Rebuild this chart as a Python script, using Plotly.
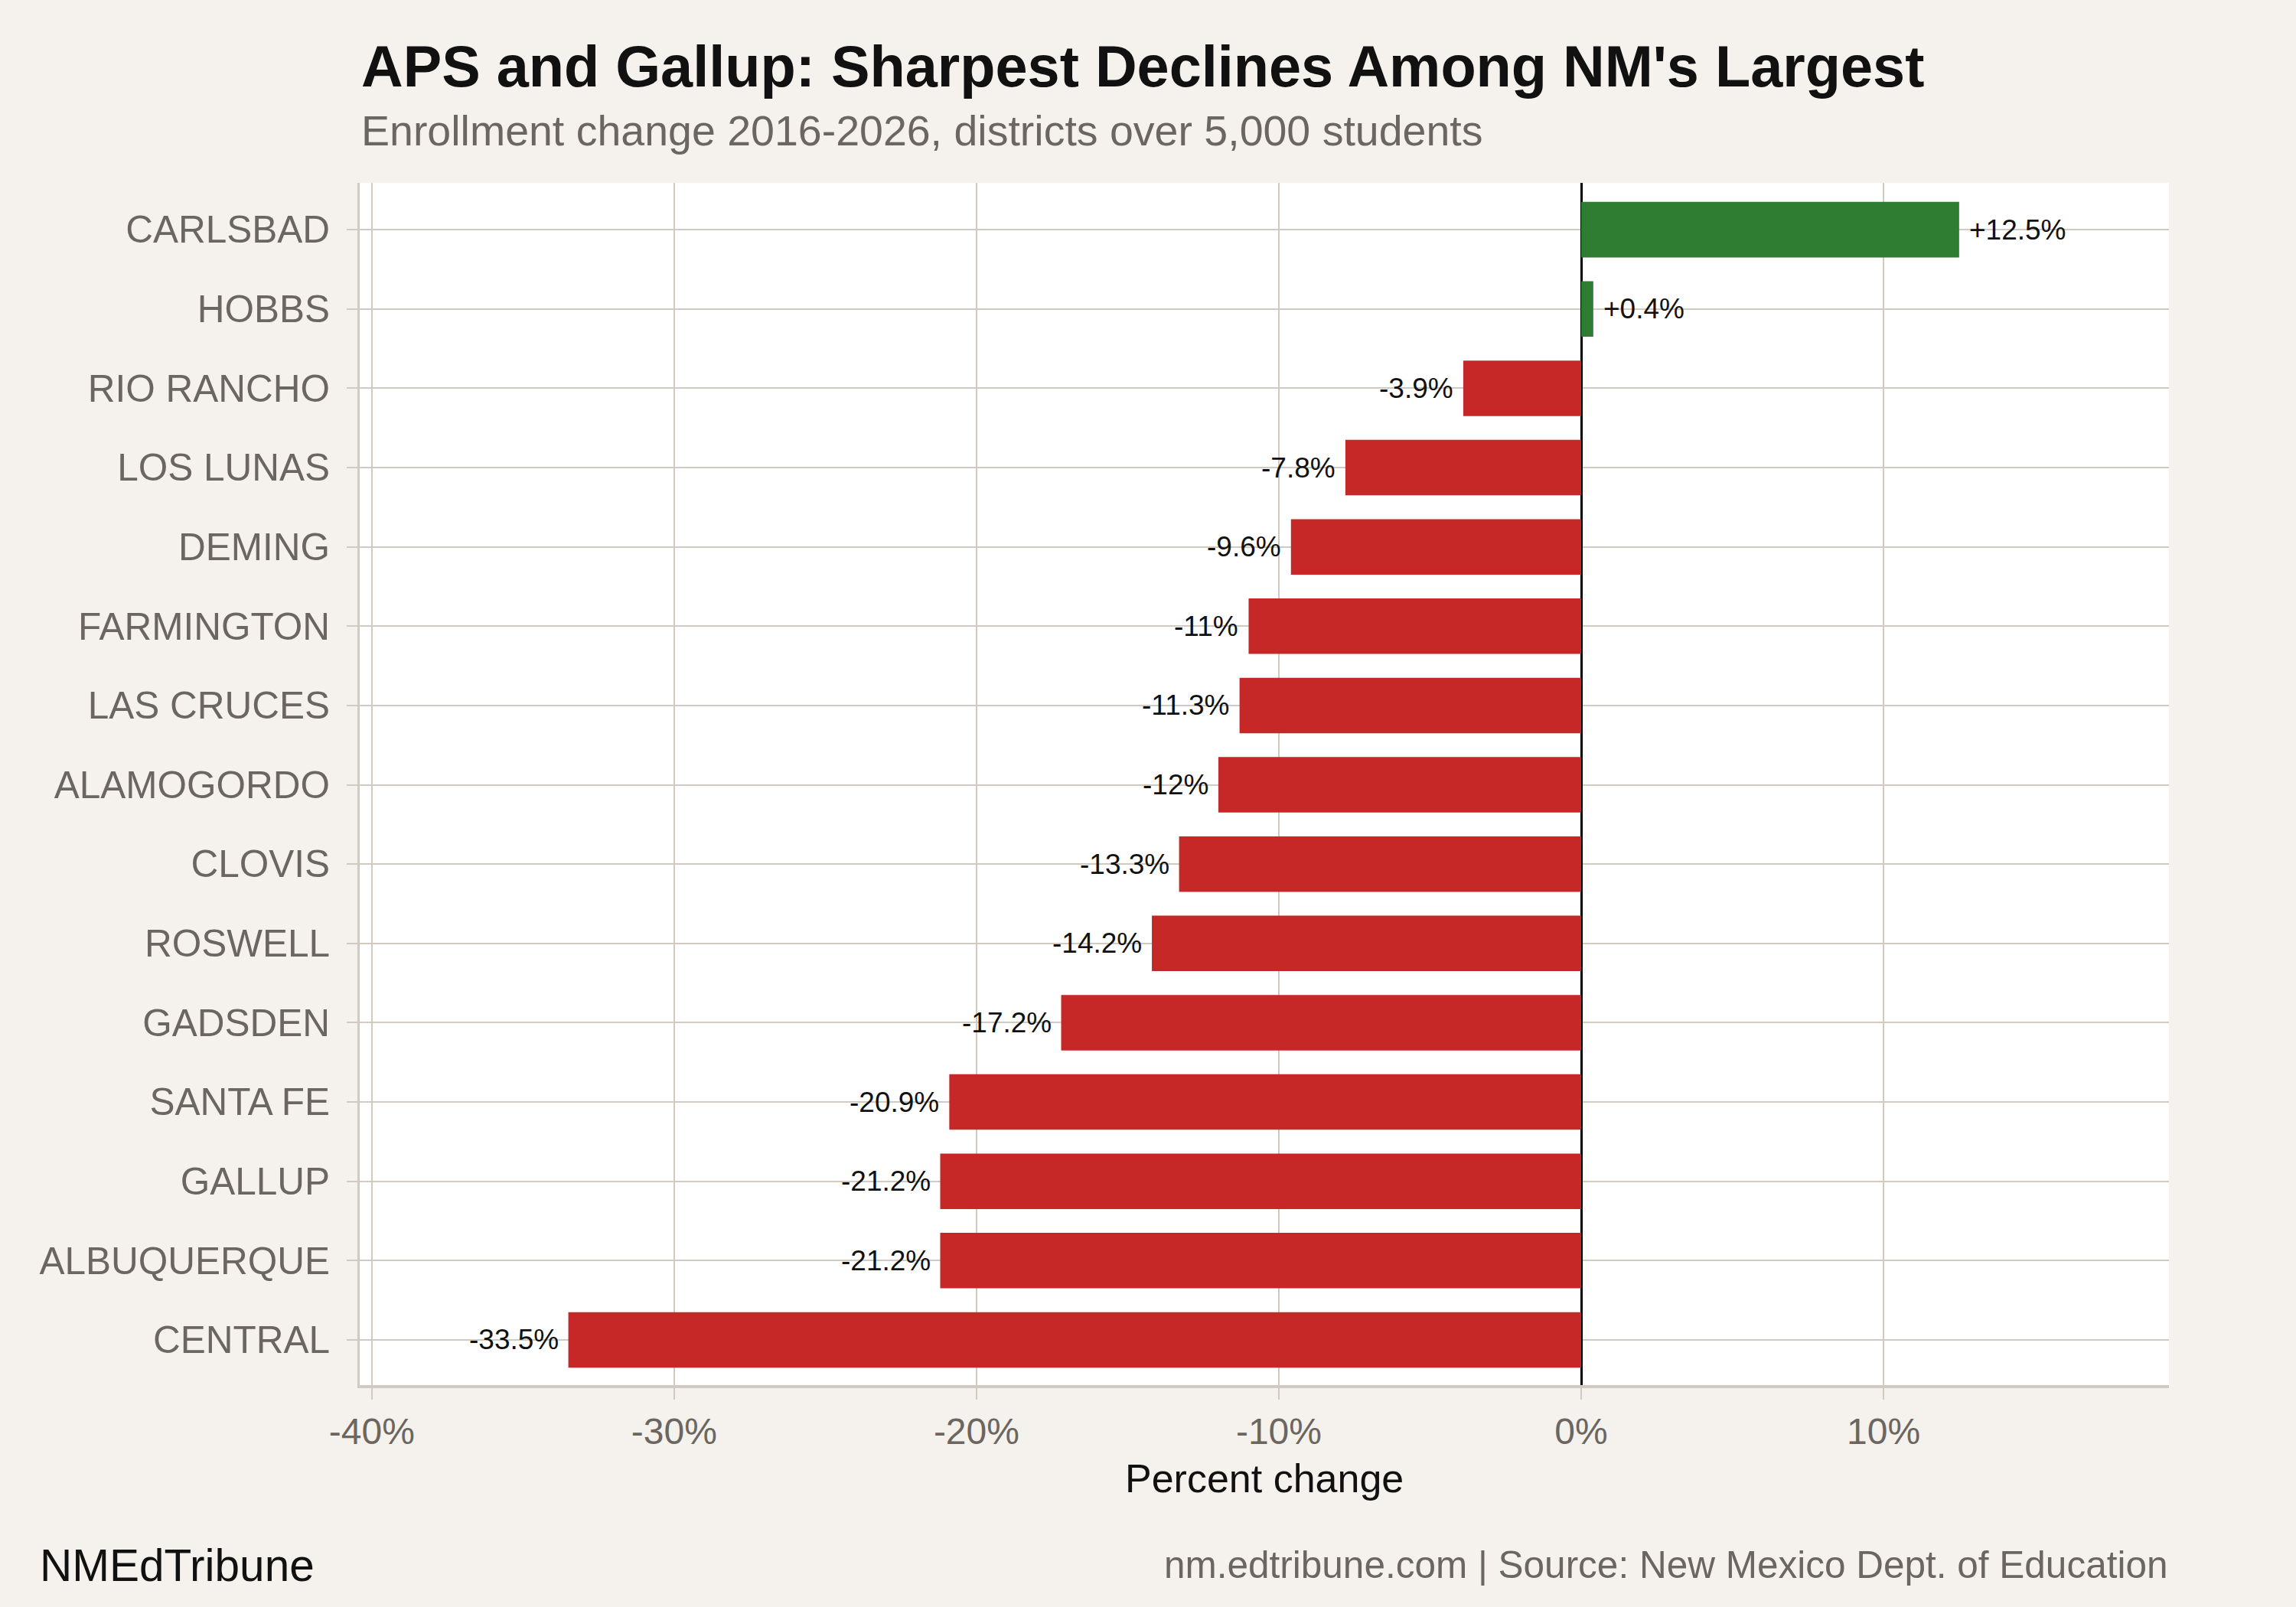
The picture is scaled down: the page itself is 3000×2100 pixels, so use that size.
import plotly.graph_objects as go

districts = ["CARLSBAD", "HOBBS", "RIO RANCHO", "LOS LUNAS", "DEMING", "FARMINGTON",
             "LAS CRUCES", "ALAMOGORDO", "CLOVIS", "ROSWELL", "GADSDEN", "SANTA FE",
             "GALLUP", "ALBUQUERQUE", "CENTRAL"]
pct_change = [12.5, 0.4, -3.9, -7.8, -9.6, -11.0, -11.3, -12.0, -13.3, -14.2, -17.2,
              -20.9, -21.2, -21.2, -33.5]
x_tick_vals = [-40, -30, -20, -10, 0, 10]
x_tick_text = ["-40%", "-30%", "-20%", "-10%", "0%", "10%"]

GREEN = "#2e7d32"
RED = "#c62828"
BG = "#f5f2ed"
GRID = "#d0cac1"
GRAY = "#6b6660"
FONT = "Liberation Sans"

colors = [GREEN if v >= 0 else RED for v in pct_change]
labels = [("+" if v > 0 else "") + f"{v:g}%" for v in pct_change]

fig = go.Figure()
fig.add_trace(go.Bar(
    x=pct_change, y=districts, orientation="h",
    marker=dict(color=colors, line=dict(width=0)),
    width=0.7, showlegend=False, hoverinfo="skip",
))

annotations = []
for d, v, t in zip(districts, pct_change, labels):
    annotations.append(dict(
        x=v, y=d, xref="x", yref="y", text=t, showarrow=False,
        xanchor="left" if v >= 0 else "right",
        xshift=11 if v >= 0 else -11, yanchor="middle",
        font=dict(family=FONT, size=37, color="#111111"),
    ))

annotations += [
    dict(text="<b>APS and Gallup: Sharpest Declines Among NM's Largest</b>",
         xref="paper", yref="paper", x=0, y=1.097, xanchor="left", yanchor="middle",
         showarrow=False, font=dict(family=FONT, size=75.7, color="#111111")),
    dict(text="Enrollment change 2016-2026, districts over 5,000 students",
         xref="paper", yref="paper", x=0, y=1.0435, xanchor="left", yanchor="middle",
         showarrow=False, font=dict(family=FONT, size=55.5, color=GRAY)),
    dict(text="Percent change", xref="paper", yref="paper", x=0.5, y=-0.0777,
         xanchor="center", yanchor="middle", showarrow=False,
         font=dict(family=FONT, size=52, color="#111111")),
    dict(text="NMEdTribune", xref="paper", yref="paper", x=-0.1777, y=-0.150,
         xanchor="left", yanchor="middle", showarrow=False,
         font=dict(family=FONT, size=58.5, color="#111111")),
    dict(text="nm.edtribune.com | Source: New Mexico Dept. of Education",
         xref="paper", yref="paper", x=1, y=-0.149, xanchor="right", yanchor="middle",
         showarrow=False, font=dict(family=FONT, size=49.5, color=GRAY)),
]

fig.update_layout(
    width=3000, height=2100,
    margin=dict(l=470, r=166, t=239, b=290),
    paper_bgcolor=BG, plot_bgcolor="white",
    font=dict(family=FONT, color=GRAY),
    annotations=annotations,
    bargap=0.3,
)
fig.update_xaxes(
    range=[-40.4, 19.44], tickvals=x_tick_vals, ticktext=x_tick_text,
    showgrid=True, gridcolor=GRID, gridwidth=2,
    zeroline=True, zerolinecolor="#000000", zerolinewidth=3,
    showline=True, linecolor=GRID, linewidth=4,
    ticks="outside", ticklen=15, tickwidth=2, tickcolor=GRID,
    tickfont=dict(family=FONT, size=48, color=GRAY),
    fixedrange=True,
)
fig.update_yaxes(
    categoryorder="array", categoryarray=districts,
    range=[len(districts) - 1 + 0.57, -0.59],
    showgrid=True, gridcolor=GRID, gridwidth=2,
    showline=True, linecolor=GRID, linewidth=3,
    ticks="outside", ticklen=14, tickwidth=2, tickcolor=GRID,
    tickfont=dict(family=FONT, size=49.5, color=GRAY),
    ticklabelstandoff=12,
    fixedrange=True,
)

fig.write_html(
    "out.html",
    config={"displayModeBar": False},
    post_script="document.body.style.margin='0';document.body.style.background='#f5f2ed';",
)
